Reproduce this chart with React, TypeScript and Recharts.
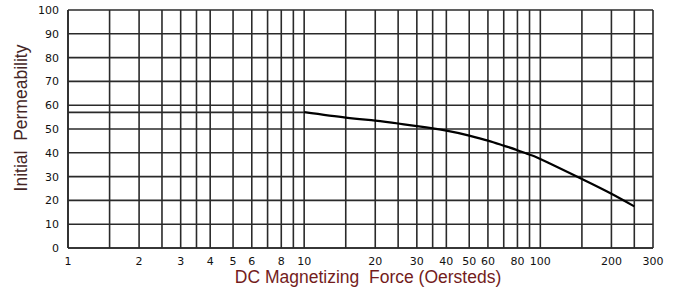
import React from 'react'
import { LineChart, Line, XAxis, YAxis, CartesianGrid, Label } from 'recharts'

// grid lines of the log paper and the ones that carry a label
const gridX = [1, 1.5, 2, 2.5, 3, 3.5, 4, 5, 6, 7, 8, 9, 10, 15, 20, 25, 30, 35, 40, 50, 60, 70, 80, 90, 100, 150, 200, 250, 300]
const labeledX = [1, 2, 3, 4, 5, 6, 8, 10, 20, 30, 40, 50, 60, 80, 100, 200, 300]
const yTicks = [0, 10, 20, 30, 40, 50, 60, 70, 80, 90, 100]

// flat part below 10 Oe
const flatForce = [1, 10]
const flatPerm = [57, 57]

// measured curve
const force = [10, 15, 20, 25, 30, 40, 50, 60, 70, 80, 90, 100, 150, 200, 250]
const permeability = [57.1, 54.8, 53.5, 52.3, 51.2, 49.3, 47.2, 45.1, 43.0, 41.1, 39.2, 37.4, 29.0, 22.8, 17.5]

const flatData = flatForce.map((x, i) => ({ x, y: flatPerm[i] }))
const curveData = force.map((x, i) => ({ x, y: permeability[i] }))

const tickStyle = { fill: '#111', fontSize: 11, fontFamily: 'DejaVu Sans' }
const titleFont = 'Liberation Sans, Arial, sans-serif'

export default function App() {
  return (
    <div style={{ position: 'absolute', left: 0, top: 0, background: '#fff' }}>
      <LineChart
        width={684}
        height={294}
        margin={{ top: 10, right: 31, bottom: 16, left: 28 }}
      >
        <CartesianGrid stroke="#2a2a2a" strokeWidth={1.6} />
        <XAxis
          type="number"
          dataKey="x"
          scale="log"
          domain={[1, 300]}
          allowDataOverflow
          ticks={gridX}
          interval={0}
          tickFormatter={(v: number) => (labeledX.includes(v) ? String(v) : '')}
          tickLine={false}
          tickSize={0}
          tickMargin={9}
          axisLine={{ stroke: '#2a2a2a', strokeWidth: 1.6 }}
          tick={tickStyle}
          height={30}
        >
          <Label
            content={() => (
              <text x={368} y={283} textAnchor="middle" fill="#731c1c" fontSize={17.5} fontFamily={titleFont}>
                {'DC Magnetizing\u00a0 Force (Oersteds)'}
              </text>
            )}
          />
        </XAxis>
        <YAxis
          type="number"
          domain={[0, 100]}
          ticks={yTicks}
          interval={0}
          tickLine={false}
          tickSize={0}
          tickMargin={9}
          axisLine={{ stroke: '#2a2a2a', strokeWidth: 1.6 }}
          tick={tickStyle}
          width={40}
        >
          <Label
            content={() => (
              <text
                x={27}
                y={118}
                transform="rotate(-90 27 118)"
                textAnchor="middle"
                fill="#452626"
                fontSize={17.5}
                fontFamily={titleFont}
              >
                {'Initial\u00a0 Permeability'}
              </text>
            )}
          />
        </YAxis>
        <Line
          data={flatData}
          dataKey="y"
          type="linear"
          stroke="#2a2a2a"
          strokeWidth={1.6}
          dot={false}
          isAnimationActive={false}
        />
        <Line
          data={curveData}
          dataKey="y"
          type="natural"
          stroke="#000"
          strokeWidth={2.2}
          dot={false}
          isAnimationActive={false}
        />
      </LineChart>
    </div>
  )
}
